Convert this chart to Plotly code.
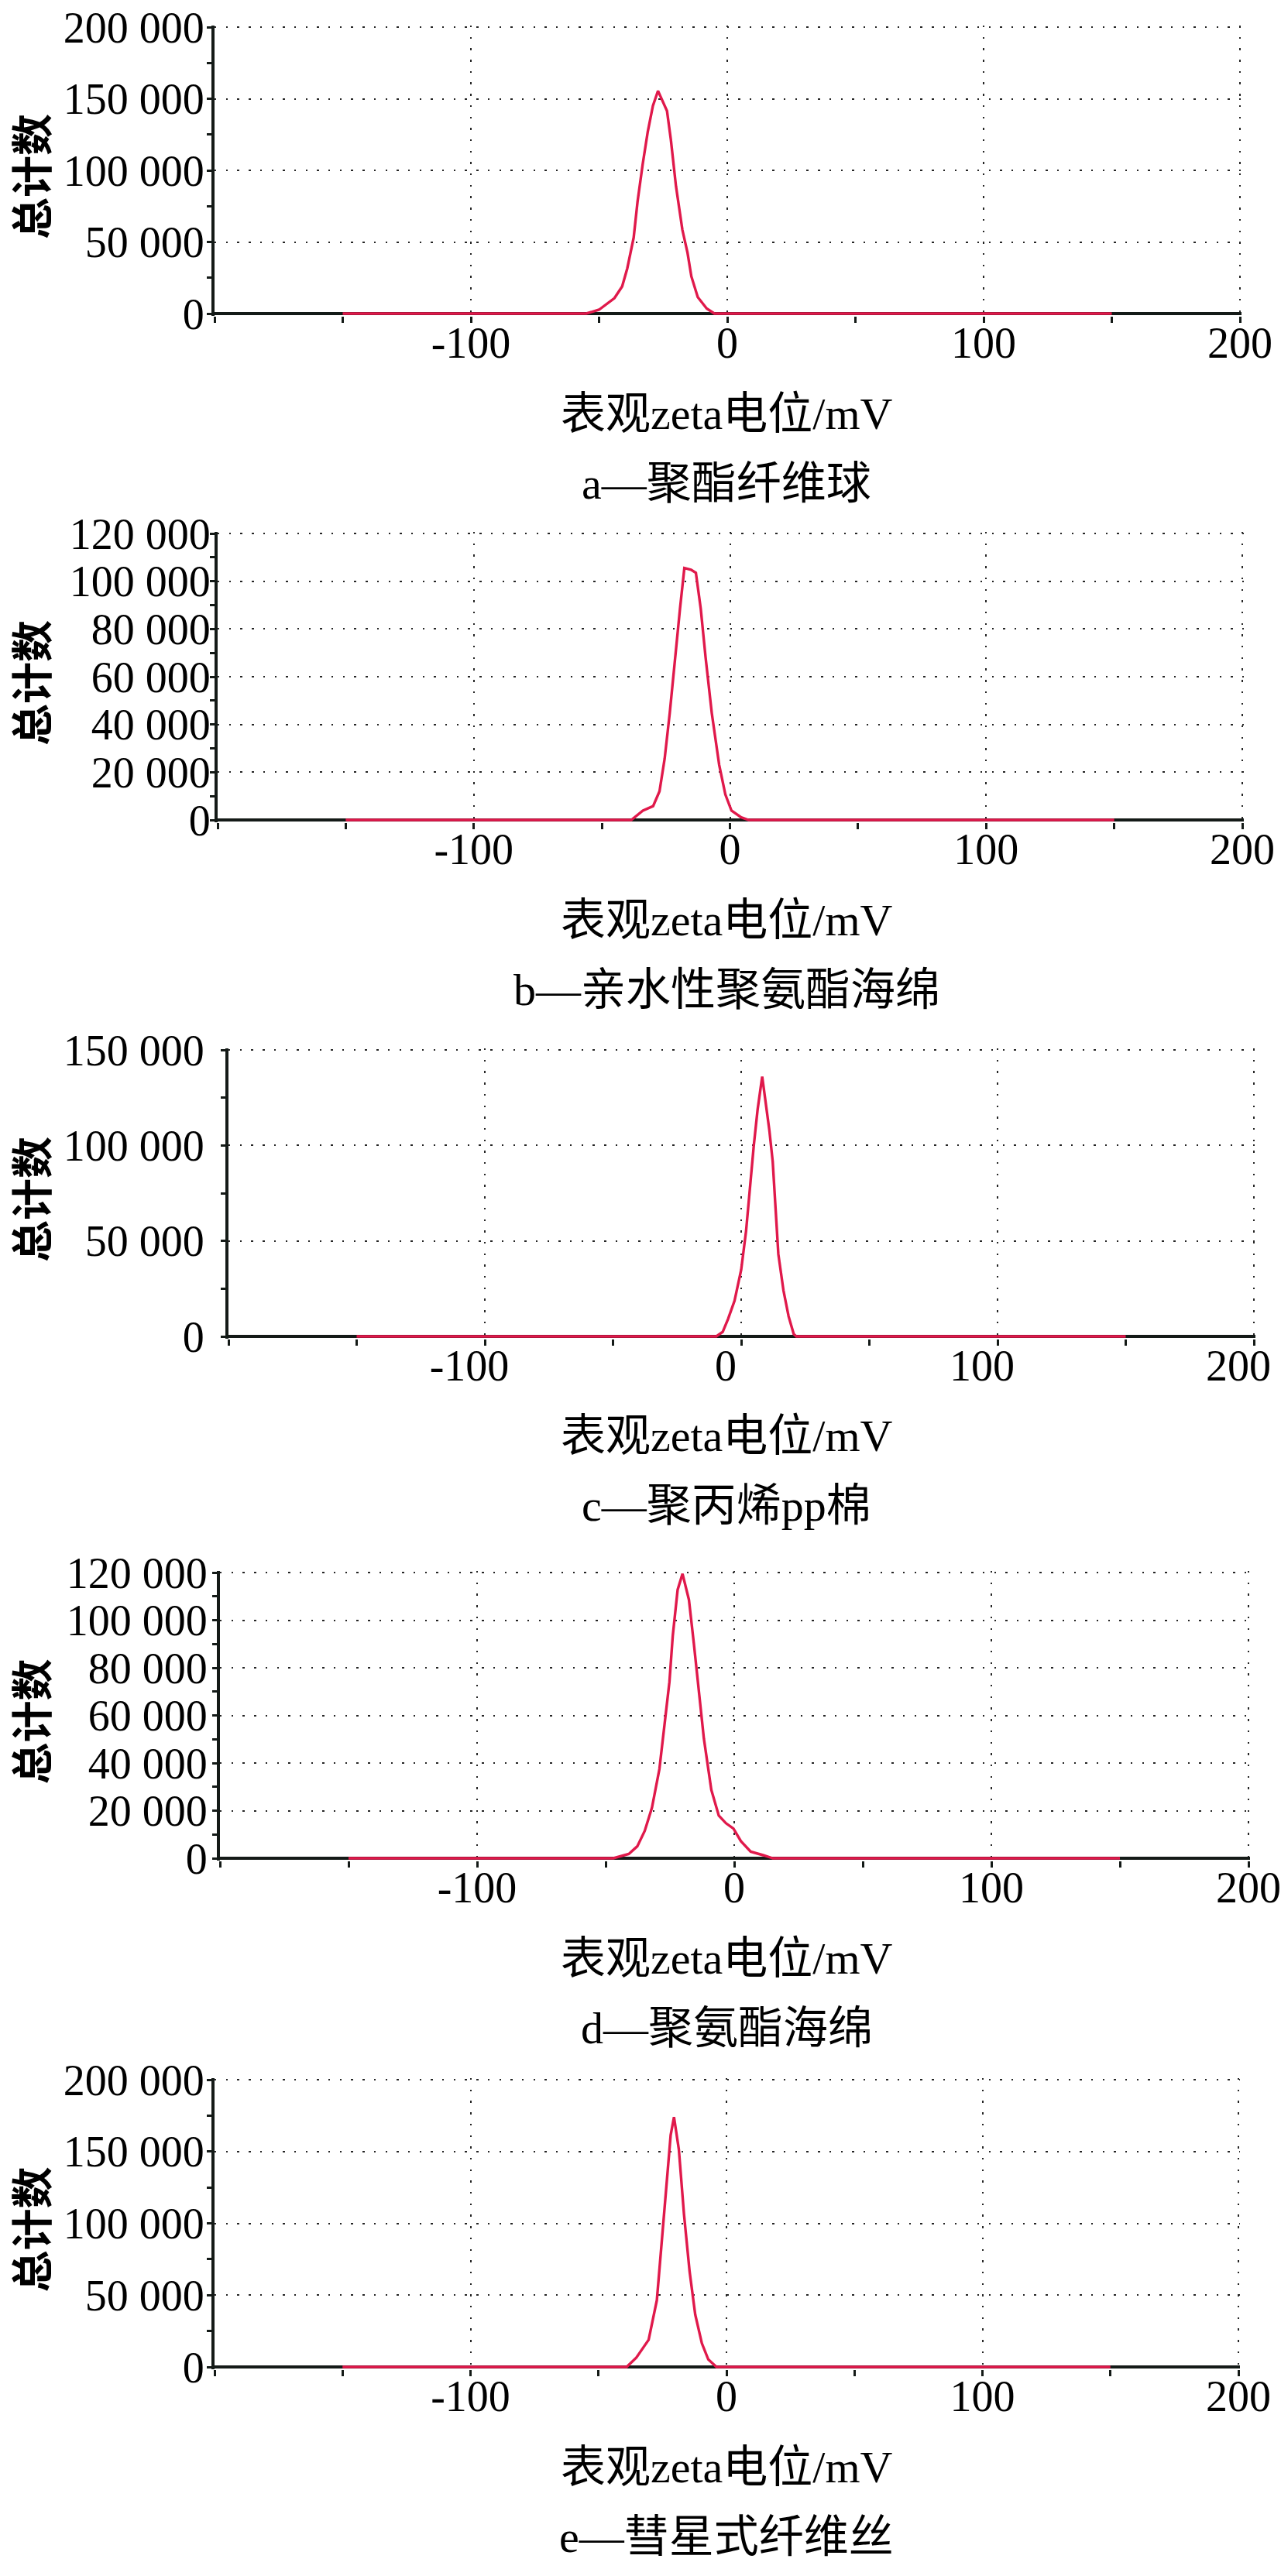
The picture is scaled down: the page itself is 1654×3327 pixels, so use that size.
import plotly.graph_objects as go

# 表观zeta电位分布（5种填料）
x_a = [-150, -55, -50, -44, -41, -39, -36.5, -35, -33, -31, -29, -27, -23.5, -22, -20, -17.5, -15.5, -14, -11.5, -8, -5, 150]
y_a = [0, 0, 2700, 10800, 18900, 31500, 53000, 78000, 104000, 127000, 145000, 155500, 141500, 121500, 89000, 58500, 42500, 26000, 11500, 3500, 0, 0]

x_b = [-150, -38.5, -34, -30, -27.5, -25.5, -23.5, -21.5, -19.5, -17.8, -15.2, -13.3, -11.4, -9.5, -7.1, -4.2, -1.8, 0.6, 4.4, 7.3, 150]
y_b = [0, 0, 3900, 5800, 12000, 25600, 44800, 68000, 88500, 105500, 104800, 103500, 88500, 68000, 44800, 23000, 10700, 3900, 1100, 0, 0]

x_c = [-150, -9.7, -7.2, -5.1, -2.6, 0, 1.9, 3.4, 4.9, 6.4, 8.2, 9.3, 11.0, 12.3, 13.5, 14.5, 16.5, 18.5, 20.5, 21.5, 150]
y_c = [0, 0, 2400, 9200, 18600, 34900, 55100, 78100, 99700, 118700, 136000, 125000, 107800, 91600, 64600, 43000, 24000, 10500, 1200, 0, 0]

x_d = [-150, -47, -41, -37.7, -34.8, -32, -29.1, -27.2, -25.2, -23.9, -22, -20.1, -17.6, -15.7, -14.1, -11.8, -8.9, -6, -3.2, -0.3, 2.6, 6.4, 11.2, 15, 150]
y_d = [0, 0, 1800, 5000, 11500, 21200, 37400, 55700, 74000, 93400, 112800, 119500, 108500, 90200, 74000, 50300, 28700, 17900, 14700, 12500, 7200, 2800, 1300, 0, 0]

x_e = [-150, -39, -35.2, -30.4, -27.2, -25, -23.1, -21.8, -20.5, -18.6, -16.6, -14.4, -12.2, -9.6, -7.1, -3.9, 150]
y_e = [0, 0, 6500, 18900, 46400, 91400, 133900, 161400, 174000, 151400, 106400, 66400, 36400, 16400, 5200, 0, 0]

y_max = [200000, 120000, 150000, 120000, 200000]
y_step = [50000, 20000, 50000, 20000, 50000]
x_tickvals = [-100, 0, 100, 200]
x_ticktext = ["-100", "0", "100", "200"]

captions = ["a—聚酯纤维球", "b—亲水性聚氨酯海绵", "c—聚丙烯pp棉", "d—聚氨酯海绵", "e—彗星式纤维丝"]
x_title = "表观zeta电位/mV"
y_title = "总计数"

W, H = 1654, 3327
# 各子图的像素位置（左、右=200处、上=最大值处、下=0处）
boxes = [
    (277, 1601, 35, 405),
    (281, 1604, 689, 1059),
    (295, 1619, 1356, 1726),
    (284, 1612, 2031, 2400),
    (277, 1599, 2686, 3057),
]
# 纵轴刻度标签右端统一在 x≈263，c 图横轴标签整体左移
y_standoff = [-8, -12, 10, -5, -8]
x_shift = [0, 0, -20, 0, 0]

RED = "#E0194B"
AXIS = "#141a17"
GRID = "#262626"
SERIF = "Liberation Serif, Times New Roman, serif"
MIXED = "Liberation Serif, Noto Sans CJK SC, serif"

series = [(x_a, y_a), (x_b, y_b), (x_c, y_c), (x_d, y_d), (x_e, y_e)]

fig = go.Figure()
annotations = []

for i, ((xs, ys), (l, r, t, b)) in enumerate(zip(series, boxes)):
    n = "" if i == 0 else str(i + 1)
    upx = 400 / (r - l)
    upy = y_max[i] / (b - t)
    fig.add_trace(go.Scatter(
        x=xs, y=ys, mode="lines",
        line=dict(color=RED, width=3.4),
        xaxis="x" + n, yaxis="y" + n, showlegend=False, hoverinfo="skip",
    ))

    yvals = list(range(0, y_max[i] + 1, y_step[i]))
    ytext = [f"{v:,}".replace(",", " ") for v in yvals]

    fig.update_layout(**{
        "xaxis" + n: dict(
            domain=[l / W, (r + 2) / W],
            range=[-200, 200 + 2 * upx],
            anchor="y" + n, automargin=False,
            tickvals=x_tickvals, ticktext=x_ticktext,
            ticks="outside", ticklen=8, tickwidth=2.5, tickcolor=AXIS,
            minor=dict(dtick=50, tick0=0, ticks="outside", ticklen=8, tickwidth=2.5,
                       tickcolor=AXIS, showgrid=False),
            showgrid=True, gridcolor=GRID, gridwidth=2.4, griddash="2.4px,12.3px",
            showline=False, zeroline=False,
            tickfont=dict(family=SERIF, size=56, color="black"),
            ticklabelstandoff=-22, ticklabelshift=x_shift[i],
            layer="below traces", fixedrange=True,
        ),
        "yaxis" + n: dict(
            domain=[1 - (b + 2.5) / H, 1 - (t - 2) / H],
            range=[-2.5 * upy, y_max[i] + 2 * upy],
            anchor="x" + n, automargin=False,
            tickvals=yvals, ticktext=ytext,
            ticks="outside", ticklen=6, tickwidth=2.5, tickcolor=AXIS,
            minor=dict(dtick=y_step[i] / 2, tick0=0, ticks="outside", ticklen=6,
                       tickwidth=2.5, tickcolor=AXIS, showgrid=False),
            showgrid=True, gridcolor=GRID, gridwidth=2.4, griddash="2.4px,12.3px",
            showline=True, linecolor=AXIS, linewidth=4,
            zeroline=True, zerolinecolor=AXIS, zerolinewidth=4,
            tickfont=dict(family=SERIF, size=56, color="black"),
            ticklabelstandoff=y_standoff[i],
            layer="below traces", fixedrange=True,
        ),
    })

    # 纵轴标题
    annotations.append(dict(
        text=y_title, textangle=-90, x=38 / W, y=1 - ((t + b) / 2 + 8) / H,
        xref="paper", yref="paper", showarrow=False, xanchor="center", yanchor="middle",
        font=dict(family="Noto Sans CJK SC", size=54, color="black", weight="bold"),
    ))
    # 横轴标题
    annotations.append(dict(
        text=x_title, x=938 / W, y=1 - (b + 129) / H,
        xref="paper", yref="paper", showarrow=False, xanchor="center", yanchor="middle",
        font=dict(family=MIXED, size=58, color="black"),
    ))
    # 图注
    annotations.append(dict(
        text=captions[i], x=938 / W, y=1 - (b + 219) / H,
        xref="paper", yref="paper", showarrow=False, xanchor="center", yanchor="middle",
        font=dict(family=MIXED, size=58, color="black"),
    ))

fig.update_layout(
    width=W, height=H, autosize=False,
    margin=dict(l=0, r=0, t=0, b=0, autoexpand=False),
    paper_bgcolor="white", plot_bgcolor="white",
    annotations=annotations,
)

# 去掉页面默认的 8px 边距，使图与窗口左上角对齐；隐藏工具栏
fig.write_html(
    "out.html",
    config={"displayModeBar": False},
    post_script="document.body.style.margin='0px';",
)
